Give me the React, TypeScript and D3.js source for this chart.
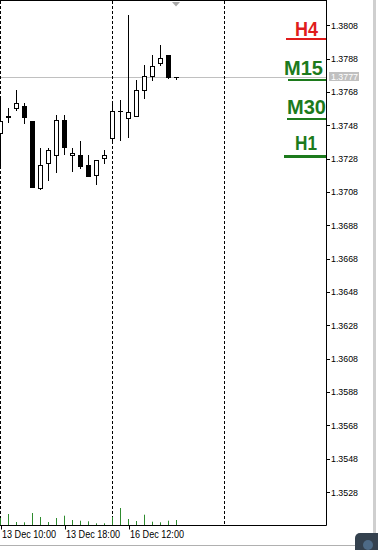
import React from "react";
import * as d3 from "d3";

const opens = [1.37432, 1.37532, 1.37582, 1.37596, 1.37506, 1.37102, 1.37252, 1.37302, 1.37512, 1.373, 1.37302, 1.37242, 1.37182, 1.37282, 1.37402, 1.37566, 1.37522, 1.37538, 1.37692, 1.37776, 1.37852, 1.37902, 1.37772];
const highs = [1.3765, 1.37584, 1.37692, 1.37612, 1.37506, 1.37342, 1.37342, 1.37542, 1.37542, 1.37346, 1.37386, 1.37302, 1.37272, 1.37332, 1.37612, 1.37632, 1.38142, 1.37752, 1.37842, 1.37902, 1.37962, 1.37902, 1.37772];
const lows = [1.37236, 1.37502, 1.37572, 1.37492, 1.37112, 1.37096, 1.37152, 1.37202, 1.37308, 1.37208, 1.37222, 1.37178, 1.37126, 1.37252, 1.37392, 1.37392, 1.37412, 1.37538, 1.37642, 1.37752, 1.37842, 1.37762, 1.3776];
const closes = [1.37508, 1.37538, 1.37612, 1.37532, 1.37112, 1.37242, 1.37332, 1.37512, 1.37352, 1.37316, 1.37238, 1.37178, 1.37272, 1.37302, 1.37566, 1.37564, 1.37562, 1.37692, 1.37776, 1.37836, 1.37882, 1.37772, 1.3777];
const volumes = [70, 110, 30, 27, 120, 80, 30, 70, 93, 50, 43, 37, 17, 17, 80, 170, 60, 40, 103, 33, 27, 43, 50];

const priceTicks = [1.3528, 1.3548, 1.3568, 1.3588, 1.3608, 1.3628, 1.3648, 1.3668, 1.3688, 1.3708, 1.3728, 1.3748, 1.3768, 1.3788, 1.3808];
const timeLabels = ["13 Dec 10:00", "13 Dec 18:00", "16 Dec 12:00"];
const timeLabelIndex = [0, 8, 16];
const separatorIndex = [0, 14, 28];
const currentPrice = 1.3777;

const tfLabels = ["H4", "M15", "M30", "H1"];
const tfColors = ["#e01c1c", "#1c7a1c", "#1c7a1c", "#1c7a1c"];

export default function App() {
  const W = 378, H = 550;
  const right = 326.5, bottom = 525.5;
  const y = d3.scaleLinear().domain([1.3528, 1.3808]).range([492, 25.3]);
  const x = d3.scaleLinear().domain([0, 22]).range([0.5, 176.5]);
  const vol = d3.scaleLinear().domain([0, 170]).range([0, 17]);
  const snap = (v: number) => Math.round(v) + 0.5;
  const font = "'Liberation Sans', Arial, sans-serif";

  const tfLayout = [
    { tx: 295, tw: 23, base: 36, ux: 286, uy: 38, uh: 2 },
    { tx: 284, tw: 39, base: 75, ux: 288, uy: 79, uh: 2 },
    { tx: 287, tw: 39, base: 114, ux: 287, uy: 118, uh: 2 },
    { tx: 295, tw: 22, base: 150, ux: 284, uy: 155, uh: 3 },
  ];

  return (
    <svg width={W} height={H} style={{ position: "absolute", left: 0, top: 0, background: "#fff" }}>
      <rect x={0} y={0} width={W} height={H} fill="#fff" />
      <line x1={0} x2={right} y1={snap(y(currentPrice))} y2={snap(y(currentPrice))} stroke="#c0c0c0" strokeWidth={1} />
      {separatorIndex.map((i) => (
        <line key={i} x1={x(i)} x2={x(i)} y1={1} y2={bottom} stroke="#000" strokeWidth={1} strokeDasharray="3,2" />
      ))}
      {volumes.map((v, i) => (
        <line key={i} x1={x(i)} x2={x(i)} y1={525} y2={525 - vol(v)} stroke="#2e8b2e" strokeWidth={1} />
      ))}
      {opens.map((o, i) => {
        const c = closes[i];
        const cx = x(i);
        const top = snap(y(Math.max(o, c)));
        const bot = snap(y(Math.min(o, c)));
        const bull = c >= o;
        return (
          <g key={i}>
            <line x1={cx} x2={cx} y1={Math.round(y(highs[i]))} y2={Math.round(y(lows[i])) + 1} stroke="#000" strokeWidth={1} />
            {bot - top < 1 ? (
              <line x1={cx - 2.5} x2={cx + 2.5} y1={top} y2={top} stroke="#000" strokeWidth={1} />
            ) : (
              <rect x={cx - 2} y={top} width={4} height={bot - top} fill={bull ? "#fff" : "#000"} stroke="#000" strokeWidth={1} />
            )}
          </g>
        );
      })}
      <path d="M172,2 L180,2 L176,6.5 Z" fill="#a8a8a8" />
      <line x1={0} x2={right} y1={0.5} y2={0.5} stroke="#000" />
      <line x1={right} x2={right} y1={0} y2={bottom} stroke="#000" />
      <line x1={0} x2={right} y1={bottom} y2={bottom} stroke="#000" />
      {priceTicks.map((p) => (
        <g key={p}>
          <line x1={right} x2={right + 3.5} y1={snap(y(p))} y2={snap(y(p))} stroke="#000" />
          <text x={331} y={y(p) + 3.5} fontSize={9.5} fontFamily={font} fill="#000" textLength={27} lengthAdjust="spacingAndGlyphs">{p.toFixed(4)}</text>
        </g>
      ))}
      <rect x={329} y={72} width={30} height={9} fill="#c0c0c0" />
      <text x={331} y={80} fontSize={9.5} fontFamily={font} fill="#fff" textLength={27} lengthAdjust="spacingAndGlyphs">{currentPrice.toFixed(4)}</text>
      {timeLabels.map((t, k) => {
        const tx = x(timeLabelIndex[k]);
        return (
          <g key={t}>
            <line x1={snap(tx)} x2={snap(tx)} y1={bottom} y2={bottom + 4} stroke="#000" />
            <text x={snap(tx) + 0.5} y={537.5} fontSize={10} fontFamily={font} fill="#000" textLength={54} lengthAdjust="spacingAndGlyphs">{t}</text>
          </g>
        );
      })}
      {tfLabels.map((l, k) => {
        const L = tfLayout[k];
        return (
          <g key={l}>
            <text x={L.tx} y={L.base} fontSize={20} fontWeight="bold" fontFamily={font} fill={tfColors[k]} textLength={L.tw} lengthAdjust="spacingAndGlyphs">{l}</text>
            <rect x={L.ux} y={L.uy} width={326 - L.ux} height={L.uh} fill={tfColors[k]} />
          </g>
        );
      })}
      <rect x={373} y={0} width={3} height={546} fill="#cfcfcf" />
      <line x1={0} x2={W} y1={545.5} y2={545.5} stroke="#b0b0b0" />
      <rect x={355} y={533} width={30} height={22} rx={5} fill="#34414e" />
      <circle cx={368} cy={545} r={5} fill="#4d6a86" />
    </svg>
  );
}
